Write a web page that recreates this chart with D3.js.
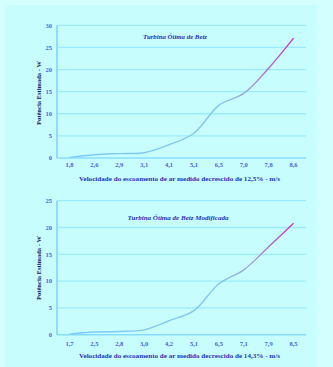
<!DOCTYPE html>
<html>
<head>
<meta charset="utf-8">
<script src="https://cdn.jsdelivr.net/npm/d3@7"></script>
<style>
  html, body { margin: 0; padding: 0; background: #d4ffff; }
  svg { display: block; }
</style>
</head>
<body>
<svg id="chart" width="333" height="367"></svg>
<script>
// Potência estimada por velocidade do vento
const categoriesA = ["1,8", "2,6", "2,9", "3,1", "4,1", "5,1", "6,5", "7,0", "7,8", "8,6"];
const powerA = [0.15, 0.75, 1.0, 1.2, 3.0, 5.6, 11.9, 14.6, 20.3, 27.1];
const yTicksA = [0, 5, 10, 15, 20, 25, 30];

const categoriesB = ["1,7", "2,5", "2,8", "3,0", "4,2", "5,1", "6,5", "7,1", "7,9", "8,5"];
const powerB = [0.1, 0.5, 0.6, 0.9, 2.6, 4.5, 9.5, 12.1, 16.4, 20.8];
const yTicksB = [0, 5, 10, 15, 20, 25];

const titles = ["Turbina Ótima de Betz", "Turbina Ótima de Betz Modificada"];
const xTitles = [
  "Velocidade do escoamento de ar medido decrescido de 12,5%  - m/s",
  "Velocidade do escoamento de ar medido decrescido de 14,3%  - m/s"
];
const yTitle = "Potência Estimada - W";

const svg = d3.select("#chart");
const serif = "'Liberation Serif', 'Times New Roman', serif";

// inner panel
svg.append("rect")
  .attr("x", 5).attr("y", 5).attr("width", 312).attr("height", 362)
  .attr("fill", "#c8fdfd");

const defs = svg.append("defs");

function drawChart(cfg) {
  const g = svg.append("g");
  const x = d3.scalePoint().domain(cfg.categories).range([57, 306]).padding(0.5);
  const y = d3.scaleLinear().domain([0, cfg.yMax]).range([cfg.bottom, cfg.top]);

  // gridlines
  g.selectAll(".grid").data(cfg.yTicks.filter(d => d > 0)).join("line")
    .attr("x1", 57).attr("x2", 306)
    .attr("y1", d => y(d)).attr("y2", d => y(d))
    .attr("stroke", "#9becfb").attr("stroke-width", 1.3);

  // x axis baseline
  g.append("line")
    .attr("x1", 57).attr("x2", 306)
    .attr("y1", y(0)).attr("y2", y(0))
    .attr("stroke", "#88dcfb").attr("stroke-width", 1.5);

  // y axis line
  g.append("line")
    .attr("x1", 57).attr("x2", 57)
    .attr("y1", y(cfg.yMax)).attr("y2", y(0))
    .attr("stroke", "#88d8fb").attr("stroke-width", 1.8);

  // y tick labels
  g.selectAll(".ytl").data(cfg.yTicks).join("text")
    .attr("x", 52).attr("y", d => y(d) + 2.3)
    .attr("text-anchor", "end")
    .attr("font-family", serif).attr("font-weight", "bold").attr("font-size", 6.5)
    .attr("fill", "#4a62e8")
    .text(d => d);

  // x tick labels
  g.selectAll(".xtl").data(cfg.categories).join("text")
    .attr("x", d => x(d)).attr("y", cfg.xLabelY)
    .attr("text-anchor", "middle")
    .attr("font-family", serif).attr("font-weight", "bold").attr("font-size", 6.5)
    .attr("fill", "#4a62e8")
    .text(d => d);

  // x axis title
  g.append("text")
    .attr("x", 179.5).attr("y", cfg.xTitleY)
    .attr("text-anchor", "middle")
    .attr("font-family", serif).attr("font-weight", "bold").attr("font-size", 6.6)
    .attr("textLength", cfg.xTitleLen).attr("lengthAdjust", "spacingAndGlyphs")
    .attr("fill", "#2a2fb8")
    .text(cfg.xTitle);

  // y axis title
  g.append("text")
    .attr("transform", `translate(41,${cfg.yTitleY}) rotate(-90)`)
    .attr("text-anchor", "middle")
    .attr("font-family", serif).attr("font-weight", "bold").attr("font-size", 6.6)
    .attr("textLength", 64).attr("lengthAdjust", "spacingAndGlyphs")
    .attr("fill", "#141a66")
    .text(yTitle);

  // chart title
  g.append("text")
    .attr("x", cfg.titleX).attr("y", cfg.titleY)
    .attr("text-anchor", "middle")
    .attr("font-family", serif).attr("font-weight", "bold").attr("font-style", "italic")
    .attr("font-size", 6.8)
    .attr("textLength", cfg.titleLen).attr("lengthAdjust", "spacingAndGlyphs")
    .attr("fill", "#2a2fb8")
    .text(cfg.title);

  // stroke gradient: blue turning magenta on the last segments
  const n = cfg.categories.length;
  const grad = defs.append("linearGradient")
    .attr("id", cfg.id)
    .attr("gradientUnits", "userSpaceOnUse")
    .attr("x1", x(cfg.categories[0])).attr("x2", x(cfg.categories[n - 1]))
    .attr("y1", 0).attr("y2", 0);
  const x0 = x(cfg.categories[0]), x1 = x(cfg.categories[n - 1]);
  const off = c => (x(c) - x0) / (x1 - x0);
  grad.append("stop").attr("offset", 0).attr("stop-color", "#7cccf4");
  grad.append("stop").attr("offset", off(cfg.categories[n - 4])).attr("stop-color", "#86c6ee");
  grad.append("stop").attr("offset", off(cfg.categories[n - 3]) + 0.04).attr("stop-color", "#a49cd8");
  grad.append("stop").attr("offset", off(cfg.categories[n - 2])).attr("stop-color", "#b068c8");
  grad.append("stop").attr("offset", 1).attr("stop-color", "#d02ec8");

  const line = d3.line()
    .x((d, i) => x(cfg.categories[i]))
    .y(d => y(d))
    .curve(d3.curveCatmullRom.alpha(0.5));

  g.append("path")
    .datum(cfg.values)
    .attr("d", line)
    .attr("fill", "none")
    .attr("stroke", `url(#${cfg.id})`)
    .attr("stroke-width", 1.4);
}

drawChart({
  id: "gradA", categories: categoriesA, values: powerA, yTicks: yTicksA, yMax: 30,
  top: 25.3, bottom: 158, xLabelY: 167.3, xTitleY: 180.5, xTitleLen: 201,
  yTitleY: 93, title: titles[0], titleX: 175, titleY: 38.5, titleLen: 64,
  xTitle: xTitles[0]
});

drawChart({
  id: "gradB", categories: categoriesB, values: powerB, yTicks: yTicksB, yMax: 25,
  top: 200.7, bottom: 334.7, xLabelY: 345.7, xTitleY: 357.5, xTitleLen: 201,
  yTitleY: 268, title: titles[1], titleX: 178, titleY: 220, titleLen: 101,
  xTitle: xTitles[1]
});
</script>
</body>
</html>
